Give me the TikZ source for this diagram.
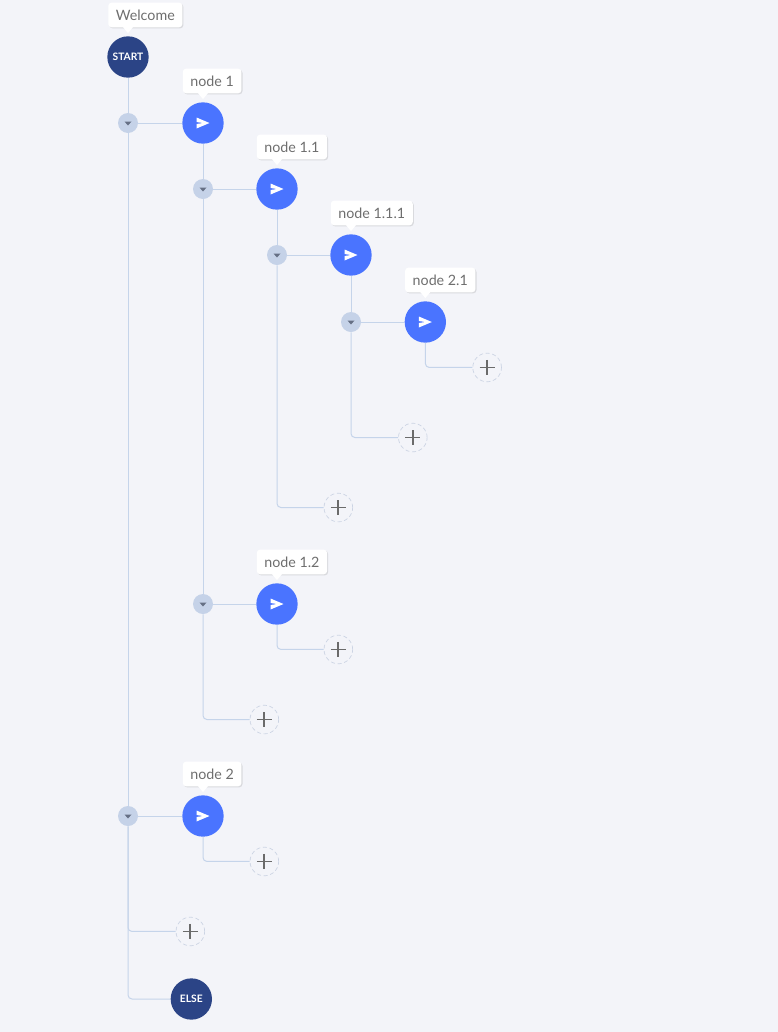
\documentclass[tikz,border=0pt]{standalone}
\usepackage{fontspec}
\setmainfont{Lato}
\usepackage{xcolor}
\usetikzlibrary{positioning,calc,shadows}

\definecolor{pagebg}{HTML}{F3F4F9}
\definecolor{navy}{HTML}{2B4486}
\definecolor{sendblue}{HTML}{4A74FF}
\definecolor{togglefill}{HTML}{C5D2E8}
\definecolor{linkblue}{HTML}{C5D4EA}
\definecolor{caretgray}{HTML}{667085}
\definecolor{plusgray}{HTML}{6B6B6B}
\definecolor{dashgray}{HTML}{CBD3E3}
\definecolor{tiptext}{HTML}{6E6E6E}

\begin{document}
\begin{tikzpicture}[
  x=0.75pt, y=-0.75pt,
  on grid,
  font=\fontsize{10.7pt}{12pt}\selectfont,
  endnode/.style={circle, fill=navy, text=white, minimum size=31pt, inner sep=0pt,
    font=\fontsize{7.7pt}{8pt}\selectfont\bfseries},
  sendnode/.style={circle, fill=sendblue, minimum size=31pt, inner sep=0pt,
    path picture={\fill[white, shift={(path picture bounding box.center)}]
      (-6.5,-5.5) -- (6.5,0) -- (-6.5,5.5) -- (-6.5,1) -- (0,0) -- (-6.5,-1) -- cycle;}},
  togglenode/.style={circle, fill=togglefill, minimum size=15pt, inner sep=0pt,
    path picture={\fill[caretgray, shift={(path picture bounding box.center)}]
      (-3.5,-1.5) -- (3.5,-1.5) -- (0,2.5) -- cycle;}},
  addnode/.style={circle, draw=dashgray, densely dashed, line width=0.5pt, minimum size=21.5pt, inner sep=0pt,
    path picture={\draw[plusgray, solid, line width=1.35pt, shift={(path picture bounding box.center)}]
      (-7.5,0) -- (7.5,0) (0,-7.5) -- (0,7.5);}},
  tipbox/.style={fill=white, rounded corners=2.5pt, anchor=south west, text=tiptext,
    inner xsep=5.7pt, inner ysep=0pt, minimum height=18.5pt,
    drop shadow={opacity=0.22, shadow xshift=0.8pt, shadow yshift=-0.8pt}},
  link/.style={draw=linkblue, line width=0.75pt, rounded corners=3pt}
]
  \fill[pagebg] (0,0) rectangle (778,1032);
  \useasboundingbox (0,0) rectangle (778,1032);

  % main branch
  \node[endnode] (start) at (128,57) {START};
  \node[togglenode, below=49.5pt of start] (tog1) {};
  \node[sendnode, right=56.25pt of tog1] (n1) {};
  \node[togglenode, below=519.75pt of tog1] (tog2) {};
  \node[sendnode, right=56.25pt of tog2] (n2) {};
  \node[addnode, below right=34.1pt and 46pt of n2] (add2) {};
  \node[addnode, below right=86.6pt and 46.75pt of tog2] (add0) {};
  \node[endnode, below right=137.25pt and 47.5pt of tog2] (else) {ELSE};

  % branch under node 1
  \node[togglenode, below right=49.5pt and 0pt of n1] (tog11) {};
  \node[sendnode, right=55.5pt of tog11] (n11) {};
  \node[togglenode, below=311.25pt of tog11] (tog12) {};
  \node[sendnode, right=55.5pt of tog12] (n12) {};
  \node[addnode, below right=34.1pt and 46pt of n12] (add12) {};
  \node[addnode, below right=447.4pt and 46pt of n1] (add1) {};

  % branch under node 1.1
  \node[togglenode, below=49.5pt of n11] (tog111) {};
  \node[sendnode, right=55.5pt of tog111] (n111) {};
  \node[addnode, below right=238.9pt and 46pt of n11] (add11) {};

  % branch under node 1.1.1
  \node[togglenode, below=50.25pt of n111] (tog21) {};
  \node[sendnode, right=55.75pt of tog21] (n21) {};
  \node[addnode, below right=34.1pt and 46.35pt of n21] (add21) {};
  \node[addnode, below right=136.9pt and 46.35pt of n111] (add111) {};

  \foreach \from/\to in {start/tog1, tog1/tog2, tog1/n1, tog2/n2, n1/tog11, tog11/tog12,
    tog11/n11, tog12/n12, n11/tog111, tog111/n111, n111/tog21, tog21/n21}
    \draw[link] (\from) -- (\to);
  \foreach \from/\to in {tog2/add0, tog2/else, n2/add2, tog12/add1, n12/add12,
    tog111/add11, tog21/add111, n21/add21}
    \draw[link] (\from) |- (\to);

  % tooltips
  \node[tipbox] (tipstart) at ([shift={(-20,-8.5)}]start.north) {Welcome};
  \node[tipbox] (tip1) at ([shift={(-20.5,-8.5)}]n1.north) {node 1};
  \node[tipbox] (tip11) at ([shift={(-20.5,-8.5)}]n11.north) {node 1.1};
  \node[tipbox] (tip111) at ([shift={(-20.5,-8.5)}]n111.north) {node 1.1.1};
  \node[tipbox] (tip21) at ([shift={(-20.5,-8.5)}]n21.north) {node 2.1};
  \node[tipbox] (tip12) at ([shift={(-20.5,-8.5)}]n12.north) {node 1.2};
  \node[tipbox] (tip2) at ([shift={(-20.5,-8.5)}]n2.north) {node 2};
  \foreach \n in {start,n1,n11,n111,n21,n12,n2}
    \fill[white] ([shift={(-5,-9)}]\n.north) -- ([shift={(5,-9)}]\n.north) -- ([shift={(0,-3)}]\n.north) -- cycle;
\end{tikzpicture}
\end{document}
